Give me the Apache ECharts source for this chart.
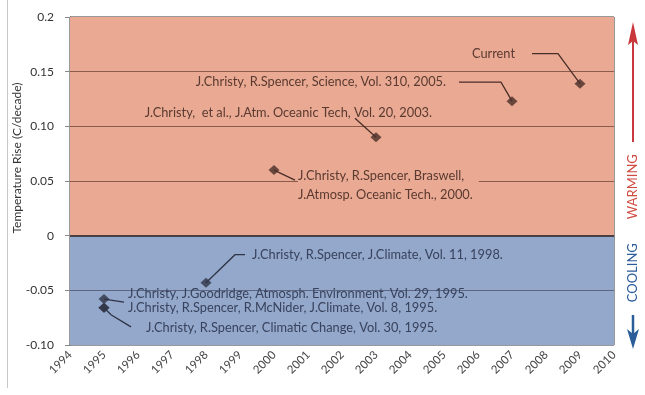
<!DOCTYPE html>
<html><head><meta charset="utf-8">
<script src="https://cdn.jsdelivr.net/npm/echarts@6/dist/echarts.min.js"></script>
<style>html,body{margin:0;padding:0;background:#fff}#c{width:645px;height:395px}</style>
</head><body><div id="c"></div>
<script>
// ---- data ----
var years = [2009, 2007, 2003, 2000, 1998, 1995, 1995, 1995];
var values = [0.139, 0.123, 0.090, 0.060, -0.043, -0.058, -0.066, -0.066];
var labels = [
  'Current',
  'J.Christy, R.Spencer, Science, Vol. 310, 2005.',
  'J.Christy,  et al., J.Atm. Oceanic Tech, Vol. 20, 2003.',
  'J.Christy, R.Spencer, Braswell,\nJ.Atmosp. Oceanic Tech., 2000.',
  'J.Christy, R.Spencer, J.Climate, Vol. 11, 1998.',
  'J.Christy, J.Goodridge, Atmosph. Environment, Vol. 29, 1995.',
  'J.Christy, R.Spencer, R.McNider, J.Climate, Vol. 8, 1995.',
  'J.Christy, R.Spencer, Climatic Change, Vol. 30, 1995.'
];
var xTickLabels = ['1994','1995','1996','1997','1998','1999','2000','2001','2002','2003','2004','2005','2006','2007','2008','2009','2010'];
var yTickLabels = ['-0.10','-0.05','0','0.05','0.10','0.15','0.2'];
var gridValues = [0.15, 0.10, 0.05, -0.05];

// ---- styles ----
var SALMON = '#e9a993', BLUE = '#93a8cb';
var TXT_W = '#5a3a30', TXT_C = '#38425c';
var FONT = 'Lato';
var LABEL_FONT = '12.8px ' + FONT;
// annotation layout (pixel offsets relative to each point)
var annot = [
  {tx:-65, ty:-30, align:'right', lead:[[-22,-30],[-48,-30]]},
  {tx:-66, ty:-19, align:'right', lead:[[-11,-19],[-53,-19]]},
  {tx:56, ty:-24, align:'right', lead:[[-21,-19]]},
  {tx:24, ty:5, align:'left', lead:[[21,10]], bg:SALMON, lh:19},
  {tx:46, ty:-28, align:'left', lead:[[29,-28],[39,-28]]},
  {tx:24, ty:-5, align:'left', lead:[[20,3]]},
  {tx:24, ty:0, align:'left', lead:null},
  {tx:42, ty:20, align:'left', lead:[[7,7],[27,19]]}
];

var chart = echarts.init(document.getElementById('c'));
var pts = years.map(function(y,i){return [y, values[i]];});
chart.setOption({
  animation:false,
  grid:{left:70, right:31, top:17, bottom:50, show:true, borderColor:'#333', borderWidth:1},
  xAxis:{type:'value', min:1994, max:2010, interval:1,
    axisLine:{show:true, lineStyle:{color:'#555'}},
    axisTick:{show:true, length:3, lineStyle:{color:'#888'}},
    splitLine:{show:false},
    axisLabel:{rotate:45, margin:8, fontFamily:FONT, fontSize:11.5, color:'#444',
      formatter:function(v,i){return xTickLabels[i];}}},
  yAxis:{type:'value', min:-0.1, max:0.2, interval:0.05,
    axisLine:{show:true, lineStyle:{color:'#555'}},
    axisTick:{show:true, length:5, lineStyle:{color:'#888'}},
    splitLine:{show:false},
    axisLabel:{margin:16, fontFamily:FONT, fontSize:12, color:'#333',
      formatter:function(v,i){return yTickLabels[i];}}},
  series:[
    {type:'line', data:[], z:1, silent:true,
      markArea:{silent:true, data:[
        [{yAxis:0, itemStyle:{color:SALMON}},{yAxis:0.2}],
        [{yAxis:-0.1, itemStyle:{color:BLUE}},{yAxis:0}]
      ]}},
    {type:'line', data:[], z:2, silent:true,
      markLine:{silent:true, symbol:'none', label:{show:false},
        data: gridValues.map(function(v){return {yAxis:v, lineStyle:{type:'solid', width:1.2, color: v>0 ? '#8b5b4c' : '#5c6683'}};})
          .concat([{yAxis:0, lineStyle:{type:'solid', width:1.5, color:'#2a2020'}}])}},
    {type:'scatter', z:10, data:pts, symbol:'diamond', symbolSize:[11,10],
      itemStyle:{color:function(p){return p.value[1] > 0 ? '#4a2e28' : '#2f3346';}}}
  ]
});

var g = [];
pts.forEach(function(p,i){
  var c = chart.convertToPixel({gridIndex:0}, p);
  var a = annot[i];
  var warm = p[1] > 0;
  var col = warm ? TXT_W : TXT_C;
  if (a.lead){
    var poly = [[c[0],c[1]]].concat(a.lead.map(function(o){return [c[0]+o[0], c[1]+o[1]];}));
    g.push({type:'polyline', z:50, shape:{points:poly}, style:{stroke: warm ? '#4a2e28' : '#2f3346', lineWidth:1.3, fill:null}});
  }
  var ty = c[1] + a.ty - (a.lh ? 9 : 0);
  g.push({type:'text', z:60, x:c[0]+a.tx, y:ty,
    style:{text:labels[i], fill:col, font:LABEL_FONT, align:a.align, verticalAlign: a.lh ? 'top' : 'middle',
      lineHeight:a.lh || 14, backgroundColor:a.bg || null, padding: a.bg ? [0,6,0,0] : 0}});
});

var pTop = chart.convertToPixel({gridIndex:0}, [2010, 0.2]);
var pZero = chart.convertToPixel({gridIndex:0}, [2010, 0]);
var pBot = chart.convertToPixel({gridIndex:0}, [2010, -0.1]);
var ax = pTop[0] + 19;
g.push({type:'line', z:60, shape:{x1:ax, y1:pTop[1]+125, x2:ax, y2:pTop[1]+22}, style:{stroke:'#c8383c', lineWidth:2}});
g.push({type:'polygon', z:60, shape:{points:[[ax, pTop[1]+5],[ax-5, pTop[1]+28],[ax, pTop[1]+24],[ax+5, pTop[1]+28]]}, style:{fill:'#c8383c'}});
g.push({type:'text', z:60, x:ax, y:pZero[1]-49, rotation:Math.PI/2,
  style:{text:'WARMING', fill:'#cf4a40', font:'13px '+FONT, align:'center', verticalAlign:'middle'}});
g.push({type:'text', z:60, x:ax, y:pZero[1]+37, rotation:Math.PI/2,
  style:{text:'COOLING', fill:'#2b5d99', font:'13px '+FONT, align:'center', verticalAlign:'middle'}});
g.push({type:'line', z:60, shape:{x1:ax, y1:pBot[1]-30, x2:ax, y2:pBot[1]-10}, style:{stroke:'#2b5d99', lineWidth:2.5}});
g.push({type:'polygon', z:60, shape:{points:[[ax, pBot[1]+4],[ax-6, pBot[1]-16],[ax, pBot[1]-11],[ax+6, pBot[1]-16]]}, style:{fill:'#2b5d99'}});
g.push({type:'text', z:60, x:17, y:158, rotation:Math.PI/2,
  style:{text:'Temperature Rise (C/decade)', fill:'#333', font:'12px '+FONT, align:'center', verticalAlign:'middle'}});
g.push({type:'line', z:60, shape:{x1:7.5, y1:0, x2:7.5, y2:388}, style:{stroke:'#c8c8c8', lineWidth:1}});
chart.setOption({graphic:g});
</script></body></html>
